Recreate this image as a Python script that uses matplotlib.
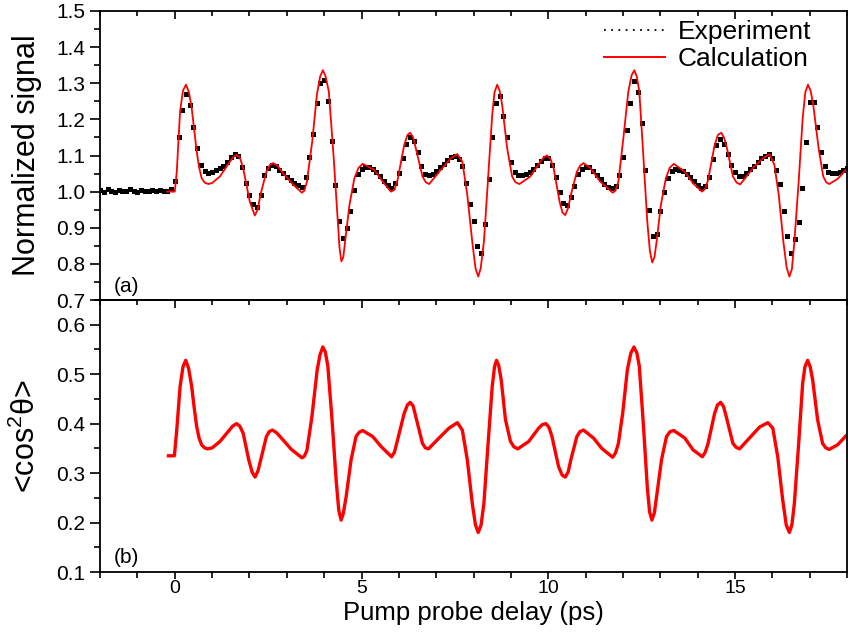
import numpy as np
import matplotlib
matplotlib.use("Agg")
import matplotlib.pyplot as plt
from matplotlib.lines import Line2D
from matplotlib.ticker import MultipleLocator

plt.rcParams['font.family'] = ['Liberation Sans', 'DejaVu Sans']
plt.rcParams['mathtext.fontset'] = 'custom'
plt.rcParams['mathtext.rm'] = 'Liberation Sans'

# kísérleti pontok (0.1 ps lépés, -2 ... 18 ps)
exp_t = np.round(np.arange(-2.0, 18.001, 0.1), 2)
exp_signal = [
    1.004, 1.000, 1.006, 1.002, 0.999, 1.005, 1.003, 1.001, 1.006, 1.002,
    1.000, 1.004, 1.003, 1.001, 1.005, 1.002, 1.004, 1.003, 1.001, 1.006,
    1.030, 1.150, 1.225, 1.270, 1.240, 1.180, 1.120, 1.075, 1.056, 1.052,
    1.055, 1.060, 1.065, 1.072, 1.082, 1.095, 1.103, 1.099, 1.068, 1.025,
    0.990, 0.965, 0.958, 0.990, 1.045, 1.065, 1.074, 1.071, 1.060, 1.051,
    1.040, 1.031, 1.023, 1.018, 1.014, 1.040, 1.095, 1.160, 1.245, 1.300,
    1.310, 1.250, 1.140, 1.019, 0.920, 0.873, 0.900, 0.945, 1.005, 1.050,
    1.062, 1.068, 1.068, 1.062, 1.055, 1.044, 1.030, 1.018, 1.009, 1.024,
    1.052, 1.092, 1.132, 1.152, 1.140, 1.110, 1.070, 1.050, 1.045, 1.048,
    1.057, 1.068, 1.077, 1.088, 1.097, 1.100, 1.090, 1.070, 1.025, 0.965,
    0.918, 0.850, 0.830, 0.910, 1.035, 1.150, 1.245, 1.265, 1.208, 1.150,
    1.083, 1.054, 1.046, 1.047, 1.050, 1.054, 1.063, 1.074, 1.084, 1.093,
    1.093, 1.074, 1.040, 0.998, 0.968, 0.964, 0.984, 1.015, 1.048, 1.064,
    1.069, 1.069, 1.058, 1.046, 1.034, 1.021, 1.013, 1.011, 1.016, 1.046,
    1.097, 1.170, 1.245, 1.305, 1.275, 1.190, 1.060, 0.950, 0.877, 0.884,
    0.945, 0.998, 1.038, 1.058, 1.062, 1.061, 1.056, 1.050, 1.041, 1.030,
    1.018, 1.010, 1.015, 1.040, 1.090, 1.130, 1.145, 1.133, 1.104, 1.074,
    1.055, 1.044, 1.043, 1.052, 1.062, 1.072, 1.083, 1.092, 1.100, 1.104,
    1.092, 1.060, 1.020, 0.945, 0.878, 0.830, 0.868, 0.915, 1.010, 1.138,
    1.249, 1.248, 1.180, 1.110, 1.070, 1.054, 1.051, 1.052, 1.055, 1.060,
    1.066,
]

# számolt jel (a) panel
calc_t_a = [
    -0.2, 0.0, 0.053, 0.142, 0.22, 0.302, 0.38, 0.453, 0.52, 0.587,
    0.65, 0.72, 0.8, 0.898, 1.0, 1.209, 1.476, 1.57, 1.653, 1.74,
    1.831, 1.92, 2.009, 2.142, 2.22, 2.293, 2.453, 2.54, 2.631, 2.75,
    2.898, 3.164, 3.404, 3.47, 3.538, 3.68, 3.804, 3.89, 3.964, 4.04,
    4.124, 4.249, 4.364, 4.41, 4.46, 4.51, 4.56, 4.676, 4.809, 4.92,
    5.031, 5.342, 5.564, 5.787, 5.88, 5.964, 6.142, 6.23, 6.302, 6.38,
    6.453, 6.631, 6.72, 6.809, 7.12, 7.387, 7.564, 7.698, 7.831, 7.964,
    8.05, 8.124, 8.19, 8.276, 8.382, 8.498, 8.56, 8.631, 8.7, 8.764,
    8.898, 9.031, 9.12, 9.227, 9.52, 9.787, 9.88, 9.964, 10.06, 10.142,
    10.302, 10.38, 10.453, 10.53, 10.604, 10.764, 10.85, 10.942, 11.12, 11.387,
    11.724, 11.8, 11.876, 12.009, 12.142, 12.23, 12.302, 12.37, 12.436, 12.542,
    12.649, 12.72, 12.782, 12.84, 12.898, 13.013, 13.147, 13.25, 13.36, 13.653,
    13.875, 14.116, 14.2, 14.276, 14.453, 14.54, 14.631, 14.71, 14.782, 14.942,
    15.04, 15.138, 15.476, 15.742, 15.92, 16.053, 16.169, 16.293, 16.38, 16.453,
    16.52, 16.587, 16.702, 16.809, 16.88, 16.951, 17.02, 17.093, 17.236, 17.36,
    17.44, 17.52, 17.742, 17.964,
]
calc_a = [
    1.0, 1.0, 1.055, 1.222, 1.28, 1.296, 1.275, 1.231, 1.17, 1.111,
    1.068, 1.037, 1.025, 1.021, 1.024, 1.042, 1.083, 1.096, 1.102, 1.095,
    1.065, 1.018, 0.972, 0.934, 0.95, 0.991, 1.055, 1.073, 1.079, 1.072,
    1.051, 1.02, 0.997, 1.003, 1.028, 1.139, 1.268, 1.318, 1.336, 1.318,
    1.277, 1.102, 0.917, 0.845, 0.807, 0.818, 0.861, 0.963, 1.037, 1.066,
    1.077, 1.06, 1.028, 1.0, 1.005, 1.032, 1.129, 1.157, 1.163, 1.15,
    1.12, 1.042, 1.026, 1.021, 1.06, 1.092, 1.104, 1.083, 0.991, 0.861,
    0.788, 0.765, 0.788, 0.861, 1.028, 1.212, 1.275, 1.296, 1.278, 1.24,
    1.12, 1.042, 1.026, 1.021, 1.042, 1.083, 1.095, 1.1, 1.09, 1.065,
    0.972, 0.942, 0.935, 0.955, 0.991, 1.055, 1.072, 1.079, 1.066, 1.028,
    0.997, 1.003, 1.028, 1.148, 1.277, 1.322, 1.336, 1.318, 1.277, 1.102,
    0.917, 0.835, 0.804, 0.818, 0.861, 0.963, 1.037, 1.066, 1.077, 1.055,
    1.023, 1.0, 1.008, 1.032, 1.129, 1.157, 1.163, 1.148, 1.12, 1.042,
    1.025, 1.02, 1.065, 1.092, 1.104, 1.074, 0.991, 0.861, 0.79, 0.765,
    0.785, 0.861, 1.028, 1.203, 1.275, 1.296, 1.28, 1.24, 1.12, 1.042,
    1.026, 1.021, 1.035, 1.06,
]

# <cos^2 theta> (b) panel
calc_t_b = [
    -0.17, -0.01, 0.053, 0.142, 0.22, 0.293, 0.37, 0.453, 0.52, 0.587,
    0.65, 0.72, 0.8, 0.88, 1.0, 1.21, 1.43, 1.55, 1.653, 1.74,
    1.83, 1.98, 2.07, 2.15, 2.23, 2.32, 2.453, 2.53, 2.613, 2.72,
    2.853, 3.12, 3.405, 3.47, 3.538, 3.671, 3.813, 3.89, 3.964, 4.03,
    4.098, 4.204, 4.32, 4.39, 4.453, 4.51, 4.587, 4.72, 4.853, 4.94,
    5.031, 5.298, 5.52, 5.804, 5.88, 5.964, 6.142, 6.23, 6.302, 6.38,
    6.453, 6.631, 6.71, 6.791, 7.075, 7.342, 7.564, 7.698, 7.831, 7.964,
    8.05, 8.124, 8.2, 8.276, 8.382, 8.498, 8.56, 8.613, 8.67, 8.738,
    8.853, 8.987, 9.08, 9.182, 9.476, 9.742, 9.84, 9.938, 10.02, 10.098,
    10.275, 10.37, 10.453, 10.53, 10.604, 10.764, 10.85, 10.942, 11.209, 11.431,
    11.724, 11.8, 11.876, 11.991, 12.116, 12.21, 12.293, 12.37, 12.436, 12.542,
    12.649, 12.71, 12.773, 12.84, 12.898, 13.031, 13.164, 13.26, 13.36, 13.653,
    13.875, 14.124, 14.2, 14.276, 14.453, 14.53, 14.613, 14.69, 14.764, 14.942,
    15.03, 15.12, 15.387, 15.653, 15.876, 16.009, 16.142, 16.276, 16.37, 16.453,
    16.52, 16.587, 16.702, 16.809, 16.87, 16.942, 17.01, 17.076, 17.209, 17.342,
    17.43, 17.52, 17.742, 17.964,
]
calc_b = [
    0.335, 0.335, 0.387, 0.475, 0.515, 0.528, 0.512, 0.475, 0.432, 0.394,
    0.371, 0.357, 0.351, 0.349, 0.351, 0.364, 0.384, 0.395, 0.4, 0.395,
    0.381, 0.327, 0.302, 0.292, 0.305, 0.333, 0.374, 0.384, 0.387, 0.382,
    0.371, 0.348, 0.331, 0.334, 0.346, 0.414, 0.509, 0.54, 0.555, 0.545,
    0.516, 0.414, 0.286, 0.225, 0.205, 0.218, 0.252, 0.327, 0.374, 0.383,
    0.386, 0.374, 0.354, 0.333, 0.342, 0.367, 0.421, 0.438, 0.443, 0.436,
    0.414, 0.36, 0.351, 0.349, 0.371, 0.391, 0.402, 0.387, 0.327, 0.239,
    0.195, 0.18, 0.195, 0.239, 0.354, 0.475, 0.515, 0.528, 0.518, 0.489,
    0.408, 0.364, 0.353, 0.349, 0.364, 0.391, 0.398, 0.4, 0.392, 0.374,
    0.313, 0.296, 0.292, 0.302, 0.327, 0.374, 0.384, 0.387, 0.371, 0.35,
    0.332, 0.341, 0.36, 0.421, 0.509, 0.543, 0.555, 0.543, 0.516, 0.401,
    0.273, 0.222, 0.205, 0.22, 0.252, 0.327, 0.374, 0.384, 0.386, 0.371,
    0.347, 0.333, 0.342, 0.36, 0.421, 0.438, 0.443, 0.435, 0.414, 0.36,
    0.352, 0.349, 0.371, 0.393, 0.402, 0.391, 0.333, 0.245, 0.195, 0.18,
    0.195, 0.239, 0.36, 0.482, 0.515, 0.528, 0.515, 0.489, 0.408, 0.36,
    0.351, 0.348, 0.357, 0.375,
]

fig = plt.figure(figsize=(8.48, 6.32), dpi=100)
ax1 = fig.add_axes([0.118, 0.5253, 0.881, 0.4573])
ax2 = fig.add_axes([0.118, 0.0949, 0.881, 0.4304], sharex=ax1)

ax1.plot(exp_t, exp_signal, ls="none", marker="s", ms=3.6, color="black", mew=0)
ax1.plot(calc_t_a, calc_a, color="red", lw=1.3)
ax2.plot(calc_t_b, calc_b, color="red", lw=2.4)

ax1.set_xlim(-2, 18)
ax1.set_ylim(0.7, 1.5)
ax2.set_ylim(0.1, 0.65)

for ax in (ax1, ax2):
    ax.yaxis.set_major_locator(MultipleLocator(0.1))
    ax.yaxis.set_minor_locator(MultipleLocator(0.05))
    ax.yaxis.set_major_formatter(plt.FormatStrFormatter("%.1f"))
    for s in ax.spines.values():
        s.set_linewidth(1.3)
    ax.tick_params(axis="y", which="major", direction="out", length=7, width=1.2, labelsize=15)
    ax.tick_params(axis="y", which="minor", direction="out", length=4, width=1.2)
ax2.xaxis.set_major_locator(MultipleLocator(5))
ax2.xaxis.set_minor_locator(MultipleLocator(1))

# felső panel: csak befelé álló tickek felül
ax1.tick_params(axis="x", which="major", direction="in", length=6, width=1.2,
                top=True, bottom=False, labelbottom=False)
ax1.tick_params(axis="x", which="minor", direction="in", length=3.5, width=1.2,
                top=True, bottom=False)

# alsó panel: lent kifelé, fent befelé
ax2.tick_params(axis="x", which="major", direction="out", length=5, width=1.2,
                labelsize=14, pad=1)
ax2.tick_params(axis="x", which="minor", direction="out", length=4, width=1.2)
top2 = ax2.secondary_xaxis("top")
top2.xaxis.set_major_locator(MultipleLocator(5))
top2.xaxis.set_minor_locator(MultipleLocator(1))
top2.tick_params(axis="x", which="major", direction="in", length=6, width=1.2, labeltop=False)
top2.tick_params(axis="x", which="minor", direction="in", length=3.5, width=1.2)
top2.spines["top"].set_linewidth(1.3)

ax1.set_ylabel("Normalized signal", fontsize=22, labelpad=10)
ax2.set_ylabel("<cos$^{2}$θ>", fontsize=22, labelpad=10)
ax2.set_xlabel("Pump probe delay (ps)", fontsize=18.5)
ax2.xaxis.set_label_coords(0.5, -0.107)

ax1.text(0.018, 0.015, "(a)", transform=ax1.transAxes, fontsize=15, ha="left", va="bottom")
ax2.text(0.018, 0.02, "(b)", transform=ax2.transAxes, fontsize=15, ha="left", va="bottom")

handles = [Line2D([], [], color="black", ls=(0, (1, 3)), lw=1.3),
           Line2D([], [], color="red", lw=1.4)]
ax1.legend(handles, ["Experiment", "Calculation"], loc="upper right", frameon=False,
           fontsize=19, handlelength=2.3, labelspacing=0.12, handletextpad=0.5,
           borderaxespad=0.1, bbox_to_anchor=(0.97, 1.015))

plt.savefig("out.png", dpi=100)
plt.close()
